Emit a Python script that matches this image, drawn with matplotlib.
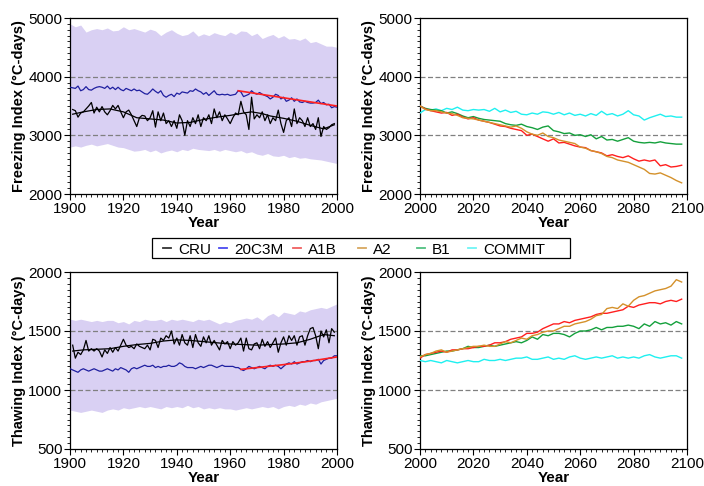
import matplotlib
matplotlib.use("Agg")
import matplotlib.pyplot as plt
from matplotlib.ticker import MultipleLocator
from matplotlib.lines import Line2D
from matplotlib.patches import Rectangle
import numpy as np

plt.rcParams['font.family'] = ['Liberation Sans', 'DejaVu Sans']

# ---------------- data ----------------
yr_hist = list(range(1900, 2001))
yr_cru = list(range(1901, 2000))
yr_band = list(range(1900, 2001, 2))
yr_proj = list(range(2000, 2100, 2))

fi_band_upper = [4900,4850,4880,4760,4800,4820,4800,4830,4780,4790,4850,4800,4820,4790,4760,4810,4780,4700,4760,4800,
                 4740,4700,4720,4780,4690,4730,4700,4750,4720,4700,4760,4720,4780,4770,4700,4740,4650,4690,4720,4660,
                 4700,4640,4650,4620,4660,4580,4600,4560,4520,4520,4500]
fi_band_lower = [2800,2820,2800,2830,2850,2820,2840,2860,2830,2800,2790,2760,2730,2740,2760,2720,2750,2700,2730,2750,
                 2720,2760,2740,2780,2760,2750,2740,2760,2730,2760,2740,2720,2740,2700,2720,2680,2660,2690,2650,2640,
                 2660,2620,2640,2610,2620,2600,2590,2580,2560,2540,2520]
ti_band_upper = [1600,1590,1600,1590,1580,1590,1580,1590,1590,1570,1580,1560,1590,1580,1600,1590,1590,1600,1580,1600,
                 1590,1600,1590,1580,1600,1590,1600,1580,1560,1580,1570,1590,1600,1610,1600,1620,1590,1630,1650,1620,
                 1660,1650,1640,1670,1660,1680,1690,1700,1690,1710,1730]
ti_band_lower = [830,820,810,820,830,820,810,830,840,830,850,840,850,860,850,860,850,840,860,850,
                 860,850,870,850,860,840,850,840,850,840,840,830,840,850,840,850,860,850,860,840,
                 860,870,860,880,870,890,880,900,910,920,930]

cru_fi = [3440,3420,3310,3380,3400,3450,3500,3560,3380,3480,3400,3490,3400,3350,3420,3510,3450,3510,3400,3300,
          3400,3430,3350,3250,3150,3300,3340,3330,3250,3300,3420,3140,3400,3250,3380,3200,3250,3150,3250,3120,
          3350,3250,3000,3250,3150,3300,3200,3350,3150,3300,3250,3350,3200,3450,3300,3400,3250,3350,3280,3200,
          3300,3380,3350,3580,3400,3350,3100,3650,3280,3350,3300,3400,3250,3350,3200,3300,3250,3430,3200,3050,
          3250,3300,3150,3450,3200,3300,3250,3150,3300,3150,3200,3100,3300,2980,3150,3100,3130,3180,3200]
cru_fi_smooth_yr = [1901,1905,1910,1915,1920,1925,1930,1935,1940,1945,1950,1955,1960,1965,1968,1972,1975,1980,1985,1990,1995,1999]
cru_fi_smooth = [3360,3400,3440,3450,3400,3300,3280,3260,3210,3220,3270,3310,3340,3380,3400,3370,3330,3290,3240,3170,3110,3180]

c20_fi = [3820,3810,3800,3840,3760,3780,3830,3780,3770,3800,3820,3830,3820,3800,3840,3790,3820,3780,3820,3780,
          3760,3800,3780,3760,3790,3760,3770,3740,3710,3700,3740,3790,3750,3720,3760,3680,3650,3680,3700,3660,
          3720,3700,3740,3730,3720,3760,3750,3790,3760,3740,3700,3730,3680,3720,3760,3700,3690,3700,3690,3700,
          3680,3690,3700,3760,3740,3660,3680,3700,3760,3720,3700,3730,3700,3680,3660,3620,3650,3700,3680,3620,
          3650,3580,3600,3640,3580,3620,3570,3560,3580,3560,3550,3550,3560,3600,3540,3560,3520,3530,3470,3490,3480]
a1b_fi_hist_yr = [1963,1970,1980,1990,2000]
a1b_fi_hist = [3760,3710,3640,3570,3500]

cru_ti = [1380,1270,1320,1300,1340,1420,1330,1350,1330,1350,1330,1280,1340,1310,1360,1320,1360,1330,1380,1430,
          1380,1360,1370,1350,1390,1370,1360,1350,1380,1340,1430,1420,1360,1440,1420,1460,1440,1500,1390,1440,
          1380,1470,1400,1380,1460,1360,1470,1400,1370,1450,1400,1460,1380,1420,1380,1340,1420,1390,1410,1350,
          1410,1380,1400,1440,1330,1440,1350,1340,1390,1400,1350,1430,1370,1410,1360,1400,1440,1320,1400,1450,
          1380,1460,1420,1460,1380,1450,1460,1380,1460,1520,1530,1460,1350,1500,1450,1510,1400,1520,1490]
cru_ti_smooth_yr = [1901,1905,1910,1915,1920,1925,1930,1935,1940,1945,1950,1955,1960,1965,1970,1975,1980,1985,1990,1995,1999]
cru_ti_smooth = [1330,1340,1345,1350,1370,1385,1395,1415,1425,1420,1410,1400,1390,1385,1380,1385,1390,1400,1430,1470,1460]

c20_ti = [1180,1170,1160,1150,1170,1180,1170,1160,1170,1180,1170,1160,1160,1170,1180,1170,1160,1180,1170,1190,
          1180,1170,1150,1180,1190,1180,1190,1200,1210,1200,1200,1210,1190,1200,1190,1200,1200,1210,1200,1200,
          1210,1230,1220,1200,1190,1190,1190,1180,1190,1200,1190,1200,1210,1210,1200,1190,1200,1210,1200,1200,
          1200,1200,1190,1190,1175,1165,1180,1200,1190,1180,1190,1200,1190,1180,1200,1210,1200,1210,1200,1180,
          1200,1220,1230,1220,1240,1220,1230,1240,1240,1250,1240,1250,1250,1260,1220,1250,1260,1270,1270,1290,1290]
a1b_ti_hist_yr = [1964,1970,1980,1990,2000]
a1b_ti_hist = [1175,1190,1215,1245,1280]

commit_fi = [3380,3440,3430,3450,3420,3460,3440,3480,3430,3420,3440,3430,3440,3410,3460,3400,3430,3390,3410,3360,
             3350,3380,3360,3400,3390,3360,3390,3350,3380,3340,3360,3330,3370,3340,3410,3350,3370,3330,3360,3420,
             3350,3330,3260,3300,3330,3360,3320,3330,3310,3310]
b1_fi = [3500,3460,3440,3430,3420,3380,3400,3370,3330,3300,3320,3290,3270,3260,3250,3240,3200,3180,3170,3190,
         3150,3130,3100,3140,3160,3080,3060,3030,3040,3000,3010,2980,3010,2940,2980,2920,2930,2900,2930,2960,
         2900,2880,2870,2880,2870,2890,2870,2860,2850,2850]
a1b_fi = [3500,3450,3420,3400,3380,3390,3340,3360,3310,3280,3300,3260,3240,3220,3190,3160,3150,3120,3100,3080,
          3000,3020,2980,2940,2900,2940,2870,2880,2850,2820,2800,2790,2740,2720,2700,2650,2670,2640,2620,2650,
          2600,2560,2580,2560,2580,2480,2500,2460,2470,2490]
a2_fi = [3500,3440,3420,3420,3400,3380,3370,3340,3300,3290,3280,3260,3240,3220,3200,3180,3160,3140,3160,3120,
         3060,3020,3000,3040,2980,2960,2920,2900,2880,2860,2800,2780,2740,2720,2690,2640,2620,2580,2560,2540,
         2500,2460,2420,2350,2340,2360,2320,2280,2230,2190]

commit_ti = [1250,1240,1250,1240,1230,1250,1240,1230,1240,1250,1240,1240,1260,1250,1250,1260,1250,1260,1270,1270,
             1280,1260,1260,1270,1280,1260,1270,1260,1280,1290,1270,1260,1270,1280,1270,1280,1290,1270,1280,1270,
             1280,1270,1290,1300,1280,1270,1280,1290,1290,1270]
b1_ti = [1290,1290,1300,1310,1320,1330,1330,1340,1350,1370,1360,1360,1370,1380,1370,1380,1390,1400,1410,1400,
         1420,1450,1430,1470,1460,1480,1480,1470,1450,1480,1500,1500,1510,1530,1510,1530,1530,1540,1540,1550,
         1540,1520,1560,1540,1580,1560,1570,1550,1580,1560]
a1b_ti = [1270,1300,1310,1320,1330,1320,1340,1340,1350,1350,1360,1370,1370,1380,1400,1400,1410,1430,1440,1450,
          1480,1480,1490,1520,1540,1560,1560,1580,1570,1590,1600,1610,1620,1640,1650,1650,1660,1670,1680,1710,
          1700,1720,1730,1740,1740,1730,1750,1760,1750,1770]
a2_ti = [1280,1300,1310,1330,1340,1320,1330,1340,1350,1360,1370,1370,1380,1370,1370,1390,1410,1400,1420,1440,
         1430,1460,1470,1490,1500,1500,1520,1540,1540,1560,1570,1580,1600,1630,1640,1690,1700,1690,1730,1710,
         1760,1790,1800,1820,1840,1850,1860,1880,1935,1915]

legend_labels = ['CRU', '20C3M', 'A1B', 'A2', 'B1', 'COMMIT']

# ---------------- style ----------------
C_CRU = 'black'
C_20C = '#1f1fa0'
C_A1B = '#ff1f1f'
C_A2 = '#d4912b'
C_B1 = '#14a03c'
C_COM = '#1ff0f0'
C_BAND = '#d9d0f3'
legend_colors = ['#333333', '#4a4af0', '#f06060', '#d8a860', '#50c080', '#70f5f5']

fig = plt.figure(figsize=(7.04, 4.86), dpi=100)
W, H = 704, 486

def make_ax(l, r, t, b):
    return fig.add_axes([l / W, 1 - b / H, (r - l) / W, (b - t) / H])

ax1 = make_ax(70, 337, 18, 194)
ax2 = make_ax(420, 687, 18, 194)
ax3 = make_ax(70, 337, 272, 449)
ax4 = make_ax(420, 687, 272, 449)

def style(ax, xlim, ylim, ymaj, ymin, grid, ylabel):
    ax.set_xlim(*xlim)
    ax.set_ylim(*ylim)
    ax.xaxis.set_major_locator(MultipleLocator(20))
    ax.xaxis.set_minor_locator(MultipleLocator(2))
    ax.yaxis.set_major_locator(MultipleLocator(ymaj))
    ax.yaxis.set_minor_locator(MultipleLocator(ymin))
    ax.tick_params(which='major', direction='out', length=4, width=0.8, labelsize=11, pad=1.5)
    ax.tick_params(which='minor', direction='out', length=2, width=0.6)
    for g in grid:
        ax.axhline(g, color='#808080', lw=0.9, ls=(0, (4, 2)), zorder=1)
    ax.set_xlabel('Year', fontsize=11, fontweight='bold', labelpad=0)
    ax.set_ylabel(ylabel, fontsize=10.5, fontweight='bold', labelpad=1.5)
    for s in ax.spines.values():
        s.set_linewidth(0.9)

# Top-left: freezing index, historical
ax1.fill_between(yr_band, fi_band_lower, fi_band_upper, color=C_BAND, lw=0, zorder=0)
ax1.plot(yr_hist, c20_fi, color=C_20C, lw=0.9, zorder=3)
ax1.plot(a1b_fi_hist_yr, a1b_fi_hist, color=C_A1B, lw=1.2, zorder=4)
ax1.plot(yr_cru, cru_fi, color=C_CRU, lw=0.9, zorder=3)
ax1.plot(cru_fi_smooth_yr, cru_fi_smooth, color=C_CRU, lw=0.9, zorder=3)
style(ax1, (1900, 2000), (2000, 5000), 1000, 100, [3000, 4000], 'Freezing Index (°C-days)')

# Top-right: freezing index, projections
ax2.plot(yr_proj, commit_fi, color=C_COM, lw=1.0, zorder=3)
ax2.plot(yr_proj, b1_fi, color=C_B1, lw=1.0, zorder=3)
ax2.plot(yr_proj, a1b_fi, color=C_A1B, lw=1.0, zorder=3)
ax2.plot(yr_proj, a2_fi, color=C_A2, lw=1.0, zorder=3)
style(ax2, (2000, 2100), (2000, 5000), 1000, 100, [3000, 4000], 'Freezing Index (°C-days)')

# Bottom-left: thawing index, historical
ax3.fill_between(yr_band, ti_band_lower, ti_band_upper, color=C_BAND, lw=0, zorder=0)
ax3.plot(yr_hist, c20_ti, color=C_20C, lw=0.9, zorder=3)
ax3.plot(a1b_ti_hist_yr, a1b_ti_hist, color=C_A1B, lw=1.2, zorder=4)
ax3.plot(yr_cru, cru_ti, color=C_CRU, lw=0.9, zorder=3)
ax3.plot(cru_ti_smooth_yr, cru_ti_smooth, color=C_CRU, lw=0.9, zorder=3)
style(ax3, (1900, 2000), (500, 2000), 500, 50, [1000, 1500], 'Thawing Index (°C-days)')

# Bottom-right: thawing index, projections
ax4.plot(yr_proj, commit_ti, color=C_COM, lw=1.0, zorder=3)
ax4.plot(yr_proj, b1_ti, color=C_B1, lw=1.0, zorder=3)
ax4.plot(yr_proj, a1b_ti, color=C_A1B, lw=1.0, zorder=3)
ax4.plot(yr_proj, a2_ti, color=C_A2, lw=1.0, zorder=3)
style(ax4, (2000, 2100), (500, 2000), 500, 50, [1000, 1500], 'Thawing Index (°C-days)')

# Custom legend box (Excel-style fixed positions)
fx = lambda px: px / W
fy = lambda py: 1 - py / H
fig.add_artist(Rectangle((fx(152), fy(258)), fx(570) - fx(152), fy(238) - fy(258),
                         transform=fig.transFigure, fill=False, edgecolor='black', lw=0.9))
handle_x = [163, 219, 293, 358, 417, 468]
for hx, lab, c in zip(handle_x, legend_labels, legend_colors):
    fig.add_artist(Line2D([fx(hx), fx(hx + 8)], [fy(248), fy(248)],
                          transform=fig.transFigure, color=c, lw=1.3))
    fig.text(fx(hx + 15), fy(248), lab, fontsize=11, ha='left', va='center_baseline')

fig.savefig('out.png', dpi=100)
